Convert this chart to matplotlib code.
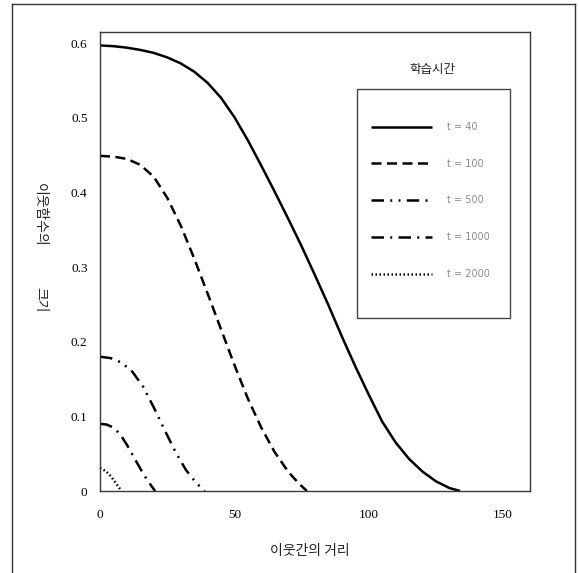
import matplotlib
matplotlib.use("Agg")
import matplotlib.pyplot as plt
from matplotlib.lines import Line2D
from matplotlib.patches import Rectangle

# ---- data ----
dist_t40 = [0, 5, 10, 15, 20, 25, 30, 35, 40, 45, 50, 55, 60, 65, 70, 75, 80, 85,
            90, 95, 100, 105, 110, 115, 120, 125, 130, 134]
h_t40 = [0.597, 0.596, 0.594, 0.591, 0.587, 0.581, 0.573, 0.562, 0.547, 0.527,
         0.501, 0.470, 0.436, 0.401, 0.365, 0.328, 0.289, 0.249, 0.207, 0.167,
         0.129, 0.093, 0.065, 0.043, 0.026, 0.013, 0.004, 0.0]

dist_t100 = [0, 5, 10, 15, 20, 25, 30, 35, 40, 45, 50, 55, 60, 65, 70, 74, 77]
h_t100 = [0.449, 0.448, 0.445, 0.437, 0.421, 0.393, 0.356, 0.312, 0.265, 0.217,
          0.169, 0.124, 0.085, 0.052, 0.026, 0.010, 0.0]

dist_t500 = [0, 4, 8, 12, 16, 20, 24, 28, 32, 36, 39]
h_t500 = [0.180, 0.178, 0.172, 0.160, 0.140, 0.112, 0.082, 0.053, 0.028, 0.010, 0.0]

dist_t1000 = [0, 2.5, 5, 7.5, 10, 12.5, 15, 17.5, 20.5]
h_t1000 = [0.090, 0.089, 0.085, 0.076, 0.062, 0.046, 0.030, 0.015, 0.0]

dist_t2000 = [0, 2, 4, 6, 8]
h_t2000 = [0.031, 0.027, 0.020, 0.010, 0.0]

series_labels = ["t = 40", "t = 100", "t = 500", "t = 1000", "t = 2000"]
x_ticks = [0, 50, 100, 150]
y_ticks = [0, 0.1, 0.2, 0.3, 0.4, 0.5, 0.6]
y_tick_labels = ["0", "0.1", "0.2", "0.3", "0.4", "0.5", "0.6"]
x_label = "이웃간의 거리"
y_label_1 = "이웃함수의"
y_label_2 = "크기"
legend_title = "학습시간"

# ---- figure ----
W, H = 579, 573
fig = plt.figure(figsize=(W / 100, H / 100), dpi=100)
fig.patch.set_facecolor("white")

def fx(px):
    return px / W

def fy(py):
    return (H - py) / H

ax = fig.add_axes([fx(100), fy(491), fx(530) - fx(100), fy(32) - fy(491)])
ax.set_xlim(0, 160)
ax.set_ylim(0, 0.615)

lw = 1.8
styles = [
    "-",
    (0, (4, 2.2)),
    (0, (5, 2.5, 0.8, 2.5, 0.8, 2.5)),
    (0, (5, 2.5, 0.8, 2.5)),
    (0, (0.6, 1.0)),
]
xs = [dist_t40, dist_t100, dist_t500, dist_t1000, dist_t2000]
ys = [h_t40, h_t100, h_t500, h_t1000, h_t2000]
lines = []
for x, y, ls, lab in zip(xs, ys, styles, series_labels):
    (ln,) = ax.plot(x, y, color="black", lw=lw, linestyle=ls, label=lab,
                    solid_capstyle="butt", dash_capstyle="butt",
                    solid_joinstyle="round", clip_on=False)
    lines.append(ln)

serif = "Liberation Serif"
ax.set_xticks(x_ticks)
ax.set_xticklabels([str(v) for v in x_ticks], fontfamily=serif, fontsize=9.5)
ax.set_yticks(y_ticks)
ax.set_yticklabels(y_tick_labels, fontfamily=serif, fontsize=9.5)
ax.tick_params(axis="both", length=0)
ax.tick_params(axis="x", pad=13)
ax.tick_params(axis="y", pad=9)
for s in ax.spines.values():
    s.set_color("#3a3a3a")
    s.set_linewidth(1.0)

kfont = ["Noto Sans CJK KR", "DejaVu Sans"]
fig.text(fx(310), fy(551), x_label, ha="center", va="center",
         fontsize=10, family=kfont, color="#222222")
fig.text(fx(40), fy(215), y_label_1, ha="center", va="center",
         rotation=-90, fontsize=10, family=kfont, color="#222222")
fig.text(fx(40), fy(300), y_label_2, ha="center", va="center",
         rotation=-90, fontsize=10, family=kfont, color="#222222")

# legend box + title
fig.add_artist(Rectangle((fx(357), fy(318)), fx(510) - fx(357), fy(89) - fy(318),
                         transform=fig.transFigure, fill=False,
                         edgecolor="#444444", lw=1.0))
fig.text(fx(432), fy(69), legend_title, ha="center", va="center",
         fontsize=9, family=kfont, color="#222222")
leg = fig.legend(handles=lines, labels=series_labels, loc="upper left",
                 bbox_to_anchor=(fx(371), fy(122)), frameon=False,
                 borderaxespad=0, borderpad=0,
                 handlelength=6.3, handletextpad=1.5, labelspacing=2.75,
                 prop={"family": "DejaVu Sans", "size": 7})
for t in leg.get_texts():
    t.set_color("#8c8c8c")

# outer page border
for xs_, ys_ in [([12, 575], [4, 4]), ([12, 12], [4, 573]), ([575, 575], [4, 573])]:
    fig.add_artist(Line2D([fx(v) for v in xs_], [fy(v) for v in ys_],
                          transform=fig.transFigure, color="#333333", lw=1.0))

fig.savefig("out.png", dpi=100)
